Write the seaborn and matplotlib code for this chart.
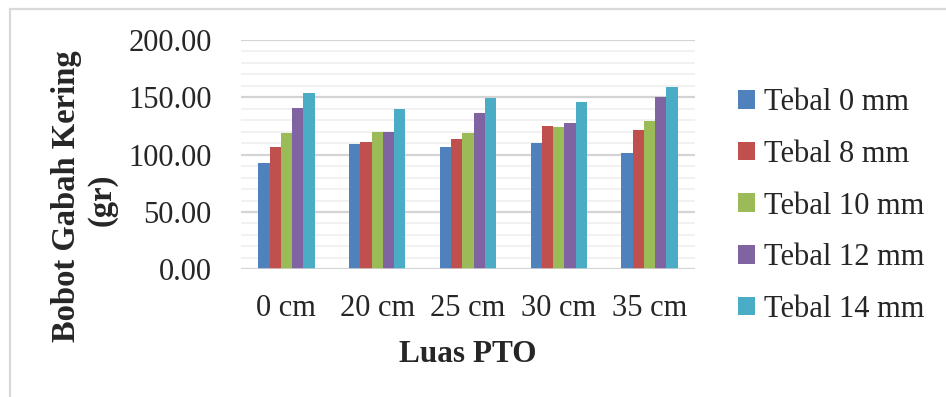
import matplotlib
matplotlib.use("Agg")
import matplotlib.pyplot as plt
import matplotlib.patches as mpatches
from matplotlib.lines import Line2D
from matplotlib.ticker import MultipleLocator
import seaborn as sns
import pandas as pd

categories = ["0 cm", "20 cm", "25 cm", "30 cm", "35 cm"]
series_names = ["Tebal 0 mm", "Tebal 8 mm", "Tebal 10 mm", "Tebal 12 mm", "Tebal 14 mm"]
tebal_0 = [93.0, 109.0, 106.7, 110.1, 101.4]
tebal_8 = [106.9, 110.7, 113.4, 124.7, 121.5]
tebal_10 = [118.6, 120.0, 118.6, 124.1, 129.3]
tebal_12 = [140.9, 120.0, 136.0, 127.3, 150.5]
tebal_14 = [154.0, 139.5, 149.7, 146.2, 158.7]
colors = ["#4F81BD", "#C0504D", "#9BBB59", "#8064A2", "#4BACC6"]

series_values = [tebal_0, tebal_8, tebal_10, tebal_12, tebal_14]
rows = []
for name, vals in zip(series_names, series_values):
    for cat, v in zip(categories, vals):
        rows.append({"Luas PTO": cat, "Seri": name, "Nilai": v})
df = pd.DataFrame(rows)

sns.set_style("white")
plt.rcParams["font.family"] = ["Liberation Serif", "DejaVu Serif"]

W, H = 946, 397
fig = plt.figure(figsize=(W / 100, H / 100), dpi=100)
ax = fig.add_axes([241 / W, 1 - 269.3 / H, (695 - 241) / W, (269.3 - 40) / H])

sns.barplot(data=df, x="Luas PTO", y="Nilai", hue="Seri", order=categories,
            hue_order=series_names, palette=colors, width=0.62, gap=0,
            saturation=1, ax=ax, legend=False, linewidth=0)

ax.set_xlim(-0.5, 4.5)
ax.set_ylim(0, 200)
ax.yaxis.set_major_locator(MultipleLocator(50))
ax.yaxis.set_minor_locator(MultipleLocator(10))
ax.grid(which="minor", axis="y", color="#F0F0F0", linewidth=1.3, zorder=0)
ax.grid(which="major", axis="y", color="#D4D4D4", linewidth=1.6, zorder=0)
ax.set_axisbelow(True)
for s in ax.spines.values():
    s.set_visible(False)
ax.axhline(0, color="#D4D4D4", linewidth=1.8, zorder=1)
ax.tick_params(axis="both", which="both", length=0, labelsize=22)
ax.tick_params(axis="y", pad=21)
ax.tick_params(axis="x", pad=18)
ax.set_yticks([0, 50, 100, 150, 200])
ax.set_yticklabels([f"{v:.2f}" for v in [0, 50, 100, 150, 200]])
ax.set_xlabel("")
ax.set_ylabel("")

fig.text(467.5 / W, 1 - 354 / H, "Luas PTO", fontsize=22.5, fontweight="bold",
         ha="center", va="center")
fig.text(67 / W, 1 - 196 / H, "Bobot Gabah Kering", fontsize=23.5, fontweight="bold",
         ha="center", va="center", rotation=90)
fig.text(102 / W, 1 - 200 / H, "(gr)", fontsize=23.5, fontweight="bold",
         ha="center", va="center", rotation=90)

handles = [mpatches.Patch(facecolor=c, edgecolor="none", label=n)
           for c, n in zip(colors, series_names)]
fig.legend(handles=handles, loc="center left", bbox_to_anchor=(738 / W, 1 - 206 / H),
           frameon=False, fontsize=22, handlelength=0.55, handleheight=0.55,
           handletextpad=0.3, labelspacing=0.74, borderaxespad=0, borderpad=0)

fig.add_artist(Line2D([10 / W, 1], [1 - 9 / H, 1 - 9 / H], color="#D9D9D9", lw=1.6,
                      transform=fig.transFigure))
fig.add_artist(Line2D([10 / W, 10 / W], [0, 1 - 9 / H], color="#D9D9D9", lw=1.6,
                      transform=fig.transFigure))

fig.savefig("out.png", dpi=100)
